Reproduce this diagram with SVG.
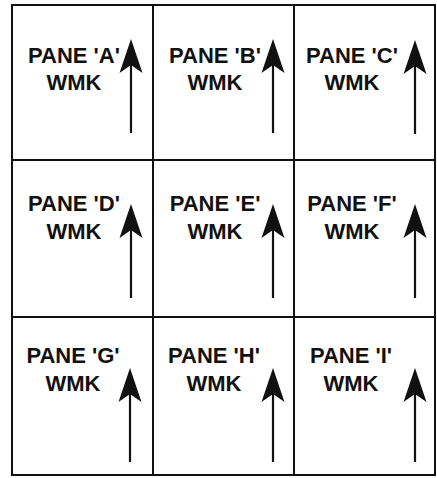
<svg xmlns="http://www.w3.org/2000/svg" xmlns:xlink="http://www.w3.org/1999/xlink" width="437" height="478" viewBox="0 0 437 478">
<style>
.grid{fill:none;stroke:#111;stroke-width:2}
.lbl{font-family:"Liberation Sans",Arial,sans-serif;font-weight:bold;font-size:22px;fill:#111;text-anchor:middle}
.shaft{stroke:#111;stroke-width:2.2;fill:none}
.head{fill:#111;stroke:none}
</style>
<defs>
<g id="arrow">
<line class="shaft" x1="0" y1="20" x2="0" y2="94"/>
<path class="head" d="M0,0 L11.5,34 L0,26 L-11.5,34 Z"/>
</g>
</defs>
<rect width="437" height="478" fill="#fff"/>
<g id="grid">
<rect class="grid" x="12" y="5" width="423" height="470"/>
<line class="grid" x1="153" y1="5" x2="153" y2="475"/>
<line class="grid" x1="294" y1="5" x2="294" y2="475"/>
<line class="grid" x1="12" y1="160" x2="435" y2="160"/>
<line class="grid" x1="12" y1="317" x2="435" y2="317"/>
</g>
<g id="pane-a"><text class="lbl" x="74" y="63">PANE 'A'</text><text class="lbl" x="74" y="90">WMK</text><use xlink:href="#arrow" x="131" y="39"/></g>
<g id="pane-b"><text class="lbl" x="215" y="63">PANE 'B'</text><text class="lbl" x="215" y="90">WMK</text><use xlink:href="#arrow" x="273" y="39"/></g>
<g id="pane-c"><text class="lbl" x="352" y="63">PANE 'C'</text><text class="lbl" x="352" y="90">WMK</text><use xlink:href="#arrow" x="415" y="40"/></g>
<g id="pane-d"><text class="lbl" x="74" y="211">PANE 'D'</text><text class="lbl" x="74" y="239">WMK</text><use xlink:href="#arrow" x="131" y="204"/></g>
<g id="pane-e"><text class="lbl" x="215" y="211">PANE 'E'</text><text class="lbl" x="215" y="239">WMK</text><use xlink:href="#arrow" x="273" y="204"/></g>
<g id="pane-f"><text class="lbl" x="352" y="211">PANE 'F'</text><text class="lbl" x="352" y="239">WMK</text><use xlink:href="#arrow" x="415" y="204"/></g>
<g id="pane-g"><text class="lbl" x="73" y="363">PANE 'G'</text><text class="lbl" x="73" y="391">WMK</text><use xlink:href="#arrow" x="130" y="368"/></g>
<g id="pane-h"><text class="lbl" x="214" y="363">PANE 'H'</text><text class="lbl" x="214" y="391">WMK</text><use xlink:href="#arrow" x="273" y="368"/></g>
<g id="pane-i"><text class="lbl" x="351" y="363">PANE 'I'</text><text class="lbl" x="351" y="391">WMK</text><use xlink:href="#arrow" x="415" y="368"/></g>
</svg>
